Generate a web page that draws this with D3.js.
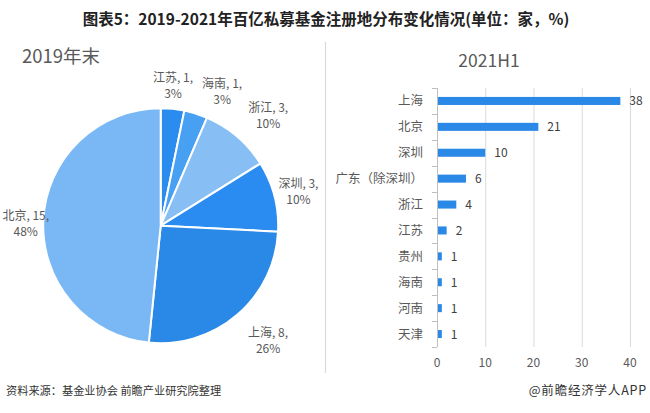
<!DOCTYPE html>
<html>
<head>
<meta charset="utf-8">
<script src="https://cdn.jsdelivr.net/npm/d3@7"></script>
<style>
html,body{margin:0;padding:0;background:#fff;}
svg{display:block;font-family:"Noto Sans CJK SC","Noto Sans",sans-serif;}
</style>
</head>
<body>
<svg id="chart" width="650" height="413"></svg>
<script>
// ---- data ----
const titleText = "图表5：2019-2021年百亿私募基金注册地分布变化情况(单位：家，%)";
const pieTitle = "2019年末";
const barTitle = "2021H1";
const pieCategories = ["江苏", "海南", "浙江", "深圳", "上海", "北京"];
const pieValues = [1, 1, 3, 3, 8, 15];
const piePercents = ["3%", "3%", "10%", "10%", "26%", "48%"];
const pieColors = ["#2b8cf0", "#47a0f2", "#87bff5", "#2a8cf0", "#2a88e6", "#7ab8f5"];
const barCategories = ["上海", "北京", "深圳", "广东（除深圳）", "浙江", "江苏", "贵州", "海南", "河南", "天津"];
const barValues = [38, 21, 10, 6, 4, 2, 1, 1, 1, 1];
const xTicks = [0, 10, 20, 30, 40];
const sourceText = "资料来源：基金业协会 前瞻产业研究院整理";
const creditText = "@前瞻经济学人APP";

const svg = d3.select("#chart");
const textCol = "#595959";

// title
svg.append("text").attr("x", 326).attr("y", 25).attr("text-anchor", "middle")
  .attr("font-size", 15.5).attr("font-weight", "bold").attr("fill", "#222")
  .text(titleText);

// divider
svg.append("line").attr("x1", 325.5).attr("x2", 325.5).attr("y1", 42).attr("y2", 373)
  .attr("stroke", "#d9d9d9").attr("stroke-width", 1.2);

// ---- pie ----
svg.append("text").attr("x", 22).attr("y", 63).attr("font-size", 18.5).attr("fill", textCol).text(pieTitle);
const cx = 160.7, cy = 225.7, R = 117.5;
const pie = d3.pie().sort(null).value(d => d)(pieValues);
const arc = d3.arc().innerRadius(0).outerRadius(R);
const g = svg.append("g").attr("transform", `translate(${cx},${cy})`);
g.selectAll("path").data(pie).enter().append("path")
  .attr("d", arc).attr("fill", (d, i) => pieColors[i])
  .attr("stroke", "#fff").attr("stroke-width", 2).attr("stroke-linejoin", "round");
// label placement: radius and angular nudge (degrees) per slice
const labelR = [141, 148, 154, 142, 157, 135];
const labelNudge = [-0.8, 7.1, 3.6, 0.4, -2.5, -1.7];
pie.forEach((d, i) => {
  const mid = (d.startAngle + d.endAngle) / 2 + labelNudge[i] * Math.PI / 180;
  const lx = Math.sin(mid) * labelR[i];
  const ly = -Math.cos(mid) * labelR[i];
  const t = g.append("text").attr("text-anchor", "middle").attr("font-size", 12).attr("fill", textCol)
    .attr("transform", `translate(${lx},${ly})`);
  t.append("tspan").attr("x", 0).attr("y", -3).text(`${pieCategories[i]}, ${pieValues[i]},`);
  t.append("tspan").attr("x", 0).attr("y", 13).text(piePercents[i]);
});

// ---- bars ----
svg.append("text").attr("x", 489).attr("y", 67).attr("text-anchor", "middle")
  .attr("font-size", 17.5).attr("fill", textCol).text(barTitle);
const x = d3.scaleLinear().domain([0, 40]).range([437, 630]);
const y = d3.scaleBand().domain(barCategories).range([88, 347]).paddingInner(0.69).paddingOuter(0.345);
const step = y.step();

// gridlines
svg.append("g").selectAll("line").data(xTicks.filter(t => t > 0)).enter().append("line")
  .attr("x1", d => x(d) + 0.5).attr("x2", d => x(d) + 0.5).attr("y1", 88).attr("y2", 347)
  .attr("stroke", "#d9d9d9").attr("stroke-width", 1);

// bars
svg.append("g").selectAll("rect").data(barValues).enter().append("rect")
  .attr("x", x(0)).attr("y", (d, i) => y(barCategories[i]))
  .attr("width", d => x(d) - x(0)).attr("height", y.bandwidth())
  .attr("fill", "#2a88e6");

// value labels
svg.append("g").selectAll("text").data(barValues).enter().append("text")
  .attr("x", d => x(d) + 9).attr("y", (d, i) => y(barCategories[i]) + y.bandwidth() / 2 + 4.5)
  .attr("font-size", 12).attr("fill", "#404040").text(d => d);

// y axis line and ticks
svg.append("line").attr("x1", x(0) + 0.5).attr("x2", x(0) + 0.5).attr("y1", 88).attr("y2", 347)
  .attr("stroke", "#bfbfbf");
const bounds = barCategories.map(c => y(c) - (step - y.bandwidth()) / 2);
bounds.push(347);
svg.append("g").selectAll("line").data(bounds).enter().append("line")
  .attr("x1", x(0) - 5).attr("x2", x(0)).attr("y1", d => Math.round(d) + 0.5).attr("y2", d => Math.round(d) + 0.5)
  .attr("stroke", "#bfbfbf");

// category labels
svg.append("g").selectAll("text").data(barCategories).enter().append("text")
  .attr("x", 423).attr("y", d => y(d) + y.bandwidth() / 2 + 4.5).attr("text-anchor", "end")
  .attr("font-size", 12.5).attr("fill", textCol).text(d => d);

// x tick labels
svg.append("g").selectAll("text").data(xTicks).enter().append("text")
  .attr("x", d => x(d)).attr("y", 367).attr("text-anchor", "middle")
  .attr("font-size", 12).attr("fill", textCol).text(d => d);

// footer
svg.append("text").attr("x", 6).attr("y", 395).attr("font-size", 11.2).attr("fill", "#333").text(sourceText);
svg.append("text").attr("x", 647).attr("y", 395).attr("text-anchor", "end").attr("font-size", 12.5)
  .attr("letter-spacing", 0.8).attr("fill", "#333").text(creditText);
</script>
</body>
</html>
